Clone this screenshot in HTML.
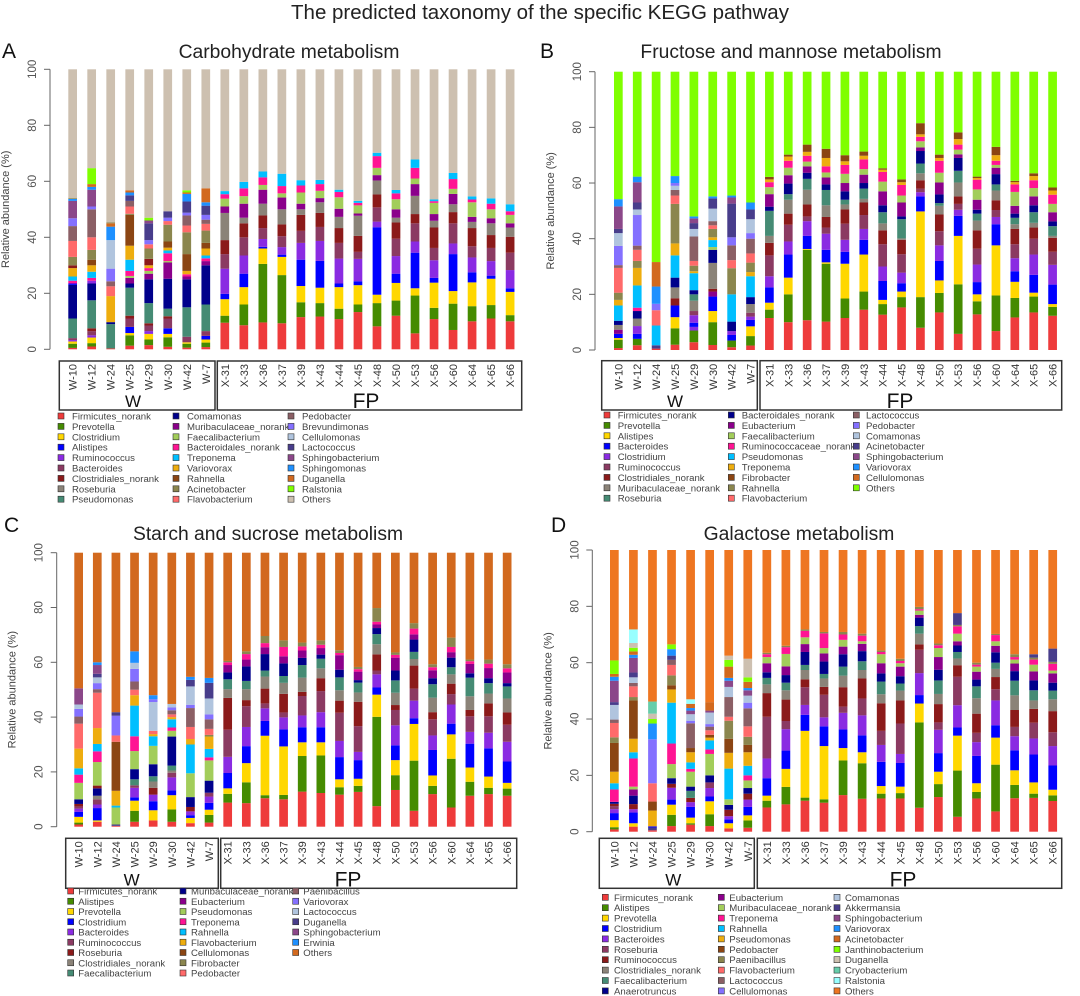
<!DOCTYPE html>
<html>
<head>
<meta charset="utf-8">
<style>
html,body{margin:0;padding:0;background:#fff;}
svg{display:block;font-family:"Liberation Sans",Arial,sans-serif;}
</style>
</head>
<body>
<svg id="fig" width="1080" height="996" viewBox="0 0 1080 996" xmlns="http://www.w3.org/2000/svg">
<rect width="1080" height="996" fill="#fff"/>
<text x="540" y="19" text-anchor="middle" font-size="20.5" fill="#222">The predicted taxonomy of the specific KEGG pathway</text>
</svg>
<script>
const samples = ["W-10","W-12","W-24","W-25","W-29","W-30","W-42","W-7","X-31","X-33","X-36","X-37","X-39","X-43","X-44","X-45","X-48","X-50","X-53","X-56","X-60","X-64","X-65","X-66"];
const palette = ["#EE3B3B","#458B00","#FFD700","#0000FF","#8A2BE2","#8B3A62","#8B1A1A","#8B8378","#458B74","#00008B","#8B008B","#A2CD5A","#FF1493","#00BFFF","#EEAD0E","#8B4513","#8B864E","#FF6A6A","#8B5F65","#8470FF","#B0C4DE","#483D8B","#8B4789","#1E90FF","#D2691E","#7FFF00","#CDC0B0","#66CDAA","#97FFFF","#EE7621"];
const yTicks = [0,20,40,60,80,100];

/* ---------- Panel A ---------- */
const taxaA = ["Firmicutes_norank","Prevotella","Clostridium","Alistipes","Ruminococcus","Bacteroides","Clostridiales_norank","Roseburia","Pseudomonas","Comamonas","Muribaculaceae_norank","Faecalibacterium","Bacteroidales_norank","Treponema","Variovorax","Rahnella","Acinetobacter","Flavobacterium","Pedobacter","Brevundimonas","Cellulomonas","Lactococcus","Sphingobacterium","Sphingomonas","Duganella","Ralstonia","Others"];
const fpSeriesA = [0,1,2,3,4,5,6,7,10,11,12,13];
const fpTopsA = [
[9.5,12,17.9,19.8,28.8,34,39,48.7,51,53.8,55.4,56.5],
[8.6,16,22.2,27,33.5,40,45,47,52,54.7,57.5,59.8],
[9.6,30.5,36,36.6,39.4,43.3,47.8,52,57,58.7,61.4,63.5],
[9.3,26.5,33,33.8,36.5,40.4,44.6,50,54.2,55.7,58.3,62.7],
[11.5,16.8,22.6,32,38,42.3,48,50,52,56,58.5,60.4],
[11.7,16.5,22,31.6,38.7,43.7,48.7,52.5,54,56.6,59,60.5],
[10.8,14.5,22.2,23.5,32.4,38,43.3,47.3,50.2,54.3,56.2,57],
[13.3,16,22.9,24.3,32.3,34.8,40.5,47.7,48.5,51.4,52.3,53],
[8.2,16.5,19.5,43.6,45.6,50.7,55.3,60.3,62.2,64.8,69,70.2],
[12,17.4,23.7,27,33.3,39.5,45.3,47,50,53.6,55.7,56.9],
[5.7,19.2,21.8,34.5,38.5,45,48.3,54.8,59,61,64.8,67.8],
[10.8,14.8,23.8,25.5,31.8,36.2,43.5,45.9,48.3,52.3,52.9,53.5],
[6.9,16.3,20.8,34,37.8,45,49,51.8,55.5,57.3,60.8,63],
[10,15.4,23.9,27.5,32.8,36.8,43.3,45.5,47.3,52.5,53.5,54.6],
[11,15.8,25.2,26.3,31.5,36.2,40.8,45,46.8,50,52,53.9],
[10,12.2,20.5,21.8,28.3,34.5,40.2,43.5,45,48,49.3,51.8]
];
const wPairsA = [
[0,.5,1,2,2,2.8,4,3.3,5,4,8,11,9,23,3,23.5,12,24.5,13,26,14,29,6,30,16,33,17,38.7,18,44,19,46.8,22,53,23,53.7,16,54],
[0,1,1,2.2,2,4.2,4,5,5,6.5,6,7.5,8,17.5,9,23.5,4,24.5,12,25.5,13,27.7,14,30,15,32,16,35.5,17,40,18,50,19,51,22,57,23,58,24,59,25,64.7],
[0,.3,8,9,9,9.7,14,19,17,22.5,18,24.3,19,28.8,20,39,23,43.8,24,45,16,45.3],
[0,1.3,1,5,2,5.8,3,8,5,11,6,12,8,22,9,23.5,10,25.5,11,26.2,12,28,13,32,14,37,15,48,16,48.4,17,51,18,53,21,55,23,56,24,56.8],
[0,1.5,1,3.5,2,5.5,4,6.5,5,8.5,6,9.3,8,16.5,9,25,10,27,11,28,12,29,14,30,6,32.3,16,36,17,37.5,19,39,21,45,22,46,25,47],
[0,.9,1,4.3,2,5.5,3,7.5,5,11,6,11.8,8,14.5,9,25.2,10,31,11,31.5,12,34.3,13,35.3,14,36.3,15,38.5,16,44.5,17,45.8,19,47,21,49.3],
[0,.6,1,2,2,2.5,5,4.5,8,15,9,25,10,26,12,26.8,14,28,15,34,16,41.8,17,44.2,18,47.8,19,48.8,21,52.8,23,55.5,24,56,25,56.8],
[0,.8,1,2.4,2,3.5,3,4.8,5,6.5,8,16,9,30,10,31.5,12,32.5,13,33.5,14,36,15,38,16,42.4,17,44.8,18,46.3,19,48,21,51.3,23,52.5,24,57.5]
];

/* ---------- Panel B ---------- */
const taxaB = ["Firmicutes_norank","Prevotella","Alistipes","Bacteroides","Clostridium","Ruminococcus","Clostridiales_norank","Muribaculaceae_norank","Roseburia","Bacteroidales_norank","Eubacterium","Faecalibacterium","Ruminococcaceae_norank","Pseudomonas","Treponema","Fibrobacter","Rahnella","Flavobacterium","Lactococcus","Pedobacter","Comamonas","Acinetobacter","Sphingobacterium","Variovorax","Cellulomonas","Others"];
const fpSeriesB = [0,1,2,3,4,5,6,7,8,9,10,11,12,14,15];
const fpTopsB = [
[11.5,14.5,17,22.5,26.5,34,38.5,41,50,51.5,56,58.5,60.3,61.3,62.2],
[10,20,26,34.3,39,45,49,54,56,59.8,62.8,65.5,68,69.5,70.2],
[10.7,36,36.3,41,46.3,48,52.3,57.6,61.5,63.7,66,67.7,69.8,71.2,73.8],
[10.2,31,31.5,36,41.8,44,47.8,52,57.5,59.5,62,63.8,66,69,72.3],
[11.5,18.5,31,35.3,39.6,45.4,50.5,52.3,54,57,60,63.3,66.5,67.8,70],
[14.5,21,34.3,39.6,43.5,48.5,53,54.3,58,60,63,65,68.5,69.8,71.3],
[12.7,16.5,18,24.8,30,38,43,45.5,49.5,52,57,60.5,64,64.8,65.3],
[15.3,19,21,24,27.8,34.4,39.6,40.1,47,48,53,55.5,59.3,60.3,61.3],
[8,19,49.8,55.2,56.7,58,61,63.5,67,71.5,72.8,75,76.6,77.5,81.5],
[13.5,20.5,25,32,37.6,42.7,48.7,51.8,52.8,55.9,60.2,63.7,68,69,70.2],
[5.8,23.6,41,48.2,50.4,52.5,55.2,60.2,64.4,69,70.3,72,73.8,75.8,78.2],
[12.8,17.5,20,24.4,30.7,36.4,43,46.5,49,50.4,54,57.7,61.2,61.8,62.3],
[6.8,19.6,37.6,45.2,47.8,50.3,53.8,57.3,59.5,63.2,65.5,66.5,68,70,73],
[11.7,18.7,24.5,28.3,33,38,43.5,45.2,47.5,49,51.8,56.8,59.5,60.3,60.8],
[13.5,19.2,20.6,27,34.3,40,44,45.7,49.5,52,55.2,58.2,61,62.5,63.5],
[12.3,15.5,16.5,23.5,30.6,35.3,40.3,41,44.5,46.2,49.5,52.5,55.8,57.3,58.4]
];
const wPairsB = [
[0,.7,1,3.7,2,4.3,3,5.8,10,7.3,7,9,9,10.5,13,16,14,18,16,20.6,17,29.5,18,30.5,19,37.4,20,42,21,43.5,22,51.6,23,54.2],
[0,1.7,1,4,3,5.8,4,8.6,7,11.3,9,14,12,15.2,13,23.2,14,29.5,16,32,17,36,18,37.5,19,48.5,20,50.5,21,53,22,60.3,23,62.3],
[0,.5,21,1.7,13,8.8,17,14.3,19,16.6,23,22.8,24,31.6],
[0,1.9,1,7.8,2,11.8,3,16,6,18.6,7,22.5,9,26,13,34,14,38.3,16,52.5,17,55.5,18,57.5,20,59,19,60,23,62.5],
[0,2.8,1,7,4,8.3,3,9.8,4,12.5,5,14,7,17.7,8,20,9,21.5,13,27.6,14,28.3,16,30.3,17,32,18,40.8,20,43.5,21,45.6,22,47.3,23,48],
[0,1.8,1,10,2,14,3,19.2,10,21,6,22,7,31.3,9,36,11,37,13,39.5,14,40.5,16,43.5,17,44.8,18,46.3,20,50.8,21,54.5,23,55.2],
[0,1,1,3.4,3,5.4,4,6.8,9,10.2,13,20,16,29.4,17,32.3,18,37.6,19,40.5,21,52.6,22,54.8,23,55.5],
[0,1.6,1,5,2,8.5,3,10.8,4,12,5,13.4,7,16.5,9,19,13,26.5,14,28,16,31.4,17,34.7,18,40,19,42,20,47,21,50.5,23,53]
];

/* ---------- Panel C ---------- */
const taxaC = ["Firmicutes_norank","Alistipes","Prevotella","Clostridium","Bacteroides","Ruminococcus","Roseburia","Clostridiales_norank","Faecalibacterium","Muribaculaceae_norank","Eubacterium","Pseudomonas","Treponema","Rahnella","Flavobacterium","Cellulomonas","Fibrobacter","Pedobacter","Paenibacillus","Variovorax","Lactococcus","Duganella","Sphingobacterium","Erwinia","Others"];
const fpSeriesC = [0,1,2,3,4,5,6,7,8,9,10,12,16];
const fpTopsC = [
[8.8,12,14,19.6,25.5,35.4,47,50.2,53.8,56.3,59,60,60.5],
[8.6,16.2,23.2,29.4,36.4,44,46.2,50.2,53.2,58.5,61,63,64],
[10.4,11.5,33.2,38.6,43.2,45,50.4,54.8,57,63,65.5,67,69.6],
[10,11.6,29.3,35.5,39.9,41.7,48.5,52.5,55,59.6,62.2,65.6,68],
[12.8,25.8,30.8,36.3,40.6,47.7,49.2,54.4,59,61.6,64.3,65.8,67.2],
[12.3,26,30.8,36.3,41.8,49.5,54.2,57.8,61.3,62.8,65.2,66.4,68],
[11.7,14.4,17.3,25.4,31.3,41.6,46,49.8,54.5,57.3,62.6,63.4,64.4],
[12.7,14.9,17.5,24.3,27.3,36.7,45.6,49,52.6,53.5,56.6,57.5,58.3],
[7.5,40.1,48.2,50.8,55.6,57,62.9,66.6,70.3,72.5,73.8,74.8,79.8],
[13.4,18.8,24.3,29.7,37,42.6,44.4,48.9,53.4,57,61.7,62.7,63.6],
[5.8,24.1,37.5,39.6,46,50.4,58.8,61.2,63.8,68.3,70.2,72.3,74.3],
[11.9,14.9,18.7,28,33.3,39.2,41.8,47.1,52,54.2,57.1,58.2,59.3],
[7,24.8,33.7,37.6,44.6,48.4,52.2,55.6,58.2,61.7,63.7,65.6,69],
[11.3,16.4,21.6,30.3,34.6,40.3,42.6,47.6,54.4,56,59.4,60.4,61],
[11.9,14.2,18.3,28.6,34.3,40.3,45,48.6,52.4,54.2,57.9,59.5,61],
[11.3,13.9,16,23.8,31,37.2,41.7,46.8,51.2,52.4,56.3,57.8,59.3]
];
const wPairsC = [
[0,.8,1,1.5,2,3.6,3,5.4,4,6.6,5,7.4,6,8.3,9,10,11,16,12,19,13,21.3,14,28.5,17,37.6,18,40.2,19,43,20,44.6,22,50.5],
[0,1.8,2,2.3,3,6.8,4,8.1,5,10,7,11.3,9,14,6,15,11,23.6,12,27.5,13,30.2,14,36,17,48.9,18,50.2,19,52.4,20,54.5,21,55.8,22,59,23,60],
[0,.3,21,.8,11,7,13,7.7,14,13.1,15,31,17,33.3,19,40.5,21,41.8],
[0,1.8,1,5.8,2,9.5,3,10.7,4,14.2,5,15.1,8,17.3,9,21,11,27.6,12,33,13,44.2,14,48,17,50,18,53,19,57.6,20,59.8,23,64],
[0,2.3,2,6,3,9.3,4,11.7,6,14.2,7,16.5,8,18.4,9,22.8,11,29.5,13,33,14,33.8,17,35,20,45.5,19,46.5,23,48],
[0,1.8,1,6.3,2,11.5,3,13.3,4,18,5,19.7,7,20.5,8,22.3,9,32.9,11,35,12,36.2,13,39.2,14,40,17,41,18,42.5,19,43.5,20,44.8],
[0,1.3,2,3.2,3,4.2,4,5.6,6,7.2,9,10.8,11,19.5,13,30,14,32,17,36.4,18,43.3,19,44.5,20,51.2,21,53.6,23,54.7],
[0,1.5,1,4.3,2,6.2,3,8.7,4,11,5,12.4,9,16.8,11,24.2,12,25.3,13,28.4,14,32.9,16,33.5,17,35.7,18,39.2,19,41,20,46.8,21,52.5,23,54.3]
];

/* ---------- Panel D ---------- */
const taxaD = ["Firmicutes_norank","Alistipes","Prevotella","Clostridium","Bacteroides","Roseburia","Ruminococcus","Clostridiales_norank","Faecalibacterium","Anaerotruncus","Eubacterium","Muribaculaceae_norank","Treponema","Rahnella","Pseudomonas","Pedobacter","Paenibacillus","Flavobacterium","Lactococcus","Cellulomonas","Comamonas","Akkermansia","Sphingobacterium","Variovorax","Acinetobacter","Janthinobacterium","Duganella","Cryobacterium","Ralstonia","Others"];
const fpSeriesD = [0,1,2,3,4,5,6,7,8,9,10,11,12,16,21];
const fpTopsD = [
[8.6,11,12.8,19,26,40.8,49.2,52.3,54.6,56.6,59.8,62,63,63.5,63.5],
[9.7,15.9,22.3,28.8,36.4,39.3,46.9,50.2,52.9,55.6,58.7,63.1,65.5,66,66],
[11,12.1,35.8,41.5,45,51.3,54.1,57.4,59.2,63.8,66.6,69,71.3,71.8,71.8],
[10.3,11.5,30.4,37.4,40.6,48.6,51.4,54.4,56,60.4,63.3,65.2,70.4,70.9,70.9],
[13,25.3,29.7,36.3,42.2,44.4,51.3,55.4,58.6,63,65.7,68.1,70,70.9,70.9],
[11.7,24.3,28.2,34.2,41.3,47.3,54.4,57.4,60.5,64.1,66.7,67.6,69.6,70.3,70.3],
[11.8,13.5,16.2,24.8,30.8,35.8,45.6,48.8,53.3,56.2,59.8,63,63.8,64.3,64.3],
[11.8,13.7,16,24.4,27.6,38.4,46.6,50.1,52.6,55.2,58.6,59.8,60.6,61.4,61.4],
[8.5,38.8,45.5,48.5,56.3,64.6,66.5,70.3,73,76,77,78.5,79,79.8,79.8],
[12.3,16.9,21.3,27.9,36.2,38.8,45.3,48.9,53.7,57.5,62,65.2,66.2,66.8,66.8],
[5.3,21.7,34.1,37,44.9,55,59.1,61.5,63.8,66.1,67.6,70.3,72.9,73.4,77.6],
[11.8,14.1,17.2,26.9,31.8,35.1,41.9,47.4,51.6,54,56.8,58.6,59.3,60,60],
[7.2,23.8,33.4,37.8,46.6,50.6,54.9,57.8,60,63.7,66,67.6,69.8,70.2,70.2],
[11.9,16.6,21.8,28.9,33.9,37.2,43.2,48.4,53.6,57,59.7,61.1,62,63,63],
[12,13.5,17.5,27.4,33.1,38.7,43.6,46.6,50.2,53.7,56.9,59.3,61.1,61.8,63],
[10.9,12.9,14.9,23.5,30.4,35.3,42.8,47,50.1,52.9,56.2,57.2,59.6,60.3,65]
];
const wPairsD = [
[0,.8,1,1.6,2,4.1,3,6.6,4,8,5,9.1,6,9.9,9,10.6,12,15,13,17.2,14,21.3,15,31.5,16,33.5,17,38.6,18,39.8,20,45,21,46,22,53.6,23,55,24,56,25,60.8],
[0,1.8,2,3,3,6.8,4,8,6,9.8,9,12.8,10,15,11,16,12,26,13,28.2,14,33,15,46.6,16,47.8,17,51.6,18,52.8,20,54.8,21,56.5,22,61.7,23,62.8,24,64,25,65.3,26,67,28,71.8],
[0,.5,21,1.5,3,1.9,14,7.5,15,10.7,17,17.2,19,32.8,23,38.4,25,40,26,41.9,27,46.2],
[0,2,1,6,2,9.6,3,11.4,4,15.6,6,17,9,19,11,24,12,31.3,13,45.8,14,50.5,15,52,16,55.5,17,59.2,18,61,21,62.5,23,64.8,25,66.5],
[0,2.5,1,3,2,5,3,8.8,4,10.5,6,12,8,14.5,9,16,11,21.3,12,22.3,13,24.6,14,28.2,15,29.7,18,38.5,19,39.4,20,41.7,22,43,23,43.9,24,45.4,28,47],
[0,2,1,6.2,2,10.8,3,12.5,4,15.5,5,17.5,9,20,11,27.6,12,29.2,13,32.4,14,33.4,15,34.4,17,36,18,37.3,19,38.2,20,42.3,22,43,24,46],
[0,1.2,2,3,3,4.4,4,5.5,6,7.8,9,9.5,11,11.5,13,22.4,14,28,15,33,16,39.4,17,40.8,18,47.8,20,51.4,22,53.6,23,54.6,24,58.6,25,61,26,62.5],
[0,1.4,1,4,2,5.8,3,8.8,4,11.4,6,13.5,9,15.5,11,18.2,12,20,13,23.4,14,28.2,15,30.8,16,33.7,17,37.4,18,43.8,19,45.8,20,48.3,22,50.2,23,51,24,53.2,25,54.8,26,61.4]
];

const panels = [
 {id:"a",title:"Carbohydrate metabolism",letter:"A",lx:2,ly:58,tx:289,ty:58,ax:50,yTop:69.3,yBot:349.3,b0:68.3,pitch:19.02,bw:8.7,
  taxa:taxaA,fpS:fpSeriesA,fpT:fpTopsA,wP:wPairsA,
  box:{wx1:59.3,wx2:215,fx1:217.3,fx2:521.7,y1:361,y2:410},wcx:133,fcx:366,
  leg:{y0:416,dy:10.4,per:9,cols:[[58,72],[173,187],[288,302]]}},
 {id:"b",title:"Fructose and mannose metabolism",letter:"B",lx:540,ly:58,tx:791,ty:58,ax:595,yTop:71.7,yBot:350,b0:614,pitch:18.88,bw:8.7,
  taxa:taxaB,fpS:fpSeriesB,fpT:fpTopsB,wP:wPairsB,
  box:{wx1:601.7,wx2:757.3,fx1:760,fx2:1061.7,y1:360.7,y2:410},wcx:675,fcx:900,
  leg:{y0:415,dy:10.4,per:9,cols:[[604,617.7],[728.3,741.7],[853.3,866]]}},
 {id:"c",title:"Starch and sucrose metabolism",letter:"C",lx:4,ly:532,tx:268,ty:540,ax:56.7,yTop:552.7,yBot:826.7,b0:74.3,pitch:18.63,bw:8.7,
  taxa:taxaC,fpS:fpSeriesC,fpT:fpTopsC,wP:wPairsC,
  box:{wx1:65.7,wx2:218.3,fx1:220.7,fx2:516.7,y1:838.3,y2:888.3},wcx:131.7,fcx:348,
  leg:{y0:891,dy:10.25,per:9,cols:[[67.7,78.3],[180,191],[292.7,303.3]]}},
 {id:"d",title:"Galactose metabolism",letter:"D",lx:551,ly:532,tx:799,ty:540,ax:592.3,yTop:550,yBot:831.7,b0:610,pitch:19.06,bw:8.7,
  taxa:taxaD,fpS:fpSeriesD,fpT:fpTopsD,wP:wPairsD,
  box:{wx1:599.3,wx2:754.3,fx1:757.3,fx2:1061.7,y1:838.3,y2:888.3},wcx:673.3,fcx:903,
  leg:{y0:897.3,dy:10.4,per:10,cols:[[602.3,614],[718.3,729.3],[834,845]]}}
];

const NS = "http://www.w3.org/2000/svg";
const svg = document.getElementById("fig");
function mk(tag, attrs, parent){
  const el = document.createElementNS(NS, tag);
  for (const k in attrs) el.setAttribute(k, attrs[k]);
  (parent||svg).appendChild(el);
  return el;
}

panels.forEach(p => {
  const g = mk("g", {});
  
  
  const yScale = v => p.yBot - (p.yBot - p.yTop) * v / 100;
  const xScale = i => p.b0 + i * p.pitch;

  const letter = mk("text", {x:p.lx, y:p.ly, "font-size":21, fill:"#111"}, g);
  letter.textContent = p.letter;
  
  

  const title = mk("text", {x:p.tx, y:p.ty, "text-anchor":"middle", "font-size":19.3, fill:"#222"}, g);
  title.textContent = p.title;
  
  

  const axis = mk("line", {x1:p.ax, x2:p.ax, y1:p.yTop, y2:p.yBot, stroke:"#666", "stroke-width":1}, g);
  
  
  yTicks.forEach(t => {
    const y = yScale(t);
    const tk = mk("line", {x1:p.ax-6, x2:p.ax, y1:y, y2:y, stroke:"#666", "stroke-width":1}, g);
    
    
    const lb = mk("text", {x:0, y:0, "text-anchor":"middle", "font-size":11.5, fill:"#555",
      transform:`translate(${p.ax-14},${y}) rotate(-90)`}, g);
    lb.textContent = t;
    
    
  });
  const yt = mk("text", {x:0, y:0, "text-anchor":"middle", "font-size":11, fill:"#444",
    transform:`translate(${p.ax-41},${(p.yTop+p.yBot)/2}) rotate(-90)`}, g);
  yt.textContent = "Relative abundance (%)";
  
  

  const others = p.taxa.length - 1;
  samples.forEach((s, i) => {
    let pairs = [];
    if (i < 8) {
      const w = p.wP[i];
      for (let k = 0; k < w.length; k += 2) pairs.push([w[k], w[k+1]]);
    } else {
      const tops = p.fpT[i-8];
      tops.forEach((v, k) => pairs.push([p.fpS[k], v]));
    }
    pairs.push([others, 100]);
    const x = xScale(i);
    let prev = 0;
    pairs.forEach(([ti, top]) => {
      if (top <= prev) return;
      const r = mk("rect", {x:x, y:yScale(top), width:p.bw, height:yScale(prev)-yScale(top), fill:palette[ti]}, g);
      
      
      prev = top;
    });
    const lab = mk("text", {x:0, y:0, "text-anchor":"end", "font-size":11, fill:"#333",
      transform:`translate(${x+p.bw/2+4},${p.box.y1+3}) rotate(-90)`}, g);
    lab.textContent = s;
    
    
  });

  const bw = mk("rect", {x:p.box.wx1, y:p.box.y1, width:p.box.wx2-p.box.wx1, height:p.box.y2-p.box.y1, fill:"none", stroke:"#333", "stroke-width":1.5}, g);
  
  
  const bf = mk("rect", {x:p.box.fx1, y:p.box.y1, width:p.box.fx2-p.box.fx1, height:p.box.y2-p.box.y1, fill:"none", stroke:"#333", "stroke-width":1.5}, g);
  
  
  const tw = mk("text", {x:p.wcx, y:p.box.y2-3, "text-anchor":"middle", "font-size":17, fill:"#111"}, g);
  tw.textContent = "W";
  
  
  const tf = mk("text", {x:p.fcx, y:p.box.y2-2, "text-anchor":"middle", "font-size":21, fill:"#111"}, g);
  tf.textContent = "FP";
  
  

  p.taxa.forEach((name, k) => {
    const col = Math.floor(k / p.leg.per), row = k % p.leg.per;
    const cy = p.leg.y0 + row * p.leg.dy;
    const c = p.leg.cols[col];
    const sq = mk("rect", {x:c[0], y:cy-3, width:6, height:6, fill:palette[k], stroke:"#333", "stroke-width":0.6}, g);
    
    
    const tx = mk("text", {x:c[1], y:cy+3.5, "font-size":9.6, fill:"#444"}, g);
    tx.textContent = name;
    
    
  });
});
</script>
</body>
</html>
